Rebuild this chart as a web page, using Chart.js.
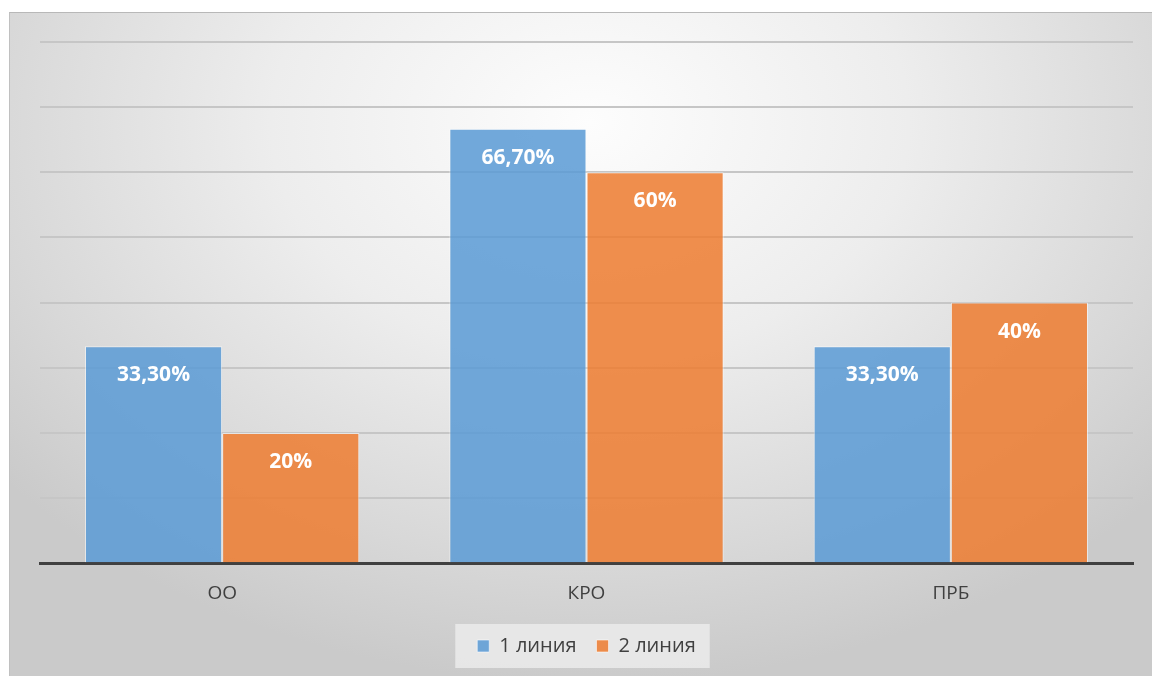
<!DOCTYPE html>
<html>
<head>
<meta charset="utf-8">
<script src="https://cdn.jsdelivr.net/npm/chart.js@4.4.0/dist/chart.umd.min.js"></script>
<style>
  html, body { margin: 0; padding: 0; background: #fff; }
  #frame {
    position: absolute; left: 9px; top: 12px; width: 1143px; height: 664px;
    border-top: 1px solid #b8b8b8; border-left: 1px solid #c0c0c0;
    box-sizing: border-box;
    background: radial-gradient(ellipse 760px 560px at 580px 110px, #fdfdfd 0%, #ededed 42%, #d8d8d8 78%, #cacaca 100%);
  }
  #chart { display: block; }
</style>
</head>
<body>
<div id="frame"><canvas id="chart" width="1142" height="663"></canvas></div>
<script>
// Categories and series
const categories = ['ОО', 'КРО', 'ПРБ'];
const line1 = [33.3, 66.7, 33.3];
const line2 = [20, 60, 40];
const line1Labels = ['33,30%', '66,70%', '33,30%'];
const line2Labels = ['20%', '60%', '40%'];

const textColor = '#404040';
const fontFamily = '"Open Sans", sans-serif';

// Light box behind the legend items
const legendBox = {
    id: 'legendBox',
    beforeDraw(chart) {
        const boxes = chart.legend && chart.legend.legendHitBoxes;
        if (!boxes || !boxes.length) return;
        const first = boxes[0];
        const last = boxes[boxes.length - 1];
        const ctx = chart.ctx;
        ctx.save();
        ctx.fillStyle = 'rgba(235,235,235,0.85)';
        ctx.fillRect(first.left - 22, first.top - 12, (last.left + last.width) - first.left + 36, first.height + 24);
        ctx.restore();
    }
};

// White value labels near the top of each bar
const valueLabels = {
    id: 'valueLabels',
    afterDatasetsDraw(chart) {
        const ctx = chart.ctx;
        const texts = [line1Labels, line2Labels];
        ctx.save();
        ctx.fillStyle = '#ffffff';
        ctx.font = 'bold 21px ' + fontFamily;
        ctx.textAlign = 'center';
        ctx.textBaseline = 'middle';
        chart.data.datasets.forEach((ds, i) => {
            chart.getDatasetMeta(i).data.forEach((bar, j) => {
                ctx.fillText(texts[i][j], bar.x, bar.y + 29);
            });
        });
        ctx.restore();
    }
};

new Chart(document.getElementById('chart'), {
    type: 'bar',
    data: {
        labels: categories,
        datasets: [
            {
                label: '1 линия',
                data: line1,
                backgroundColor: 'rgba(91,155,213,0.86)',
                borderColor: 'rgba(255,255,255,0.55)',
                borderWidth: 1
            },
            {
                label: '2 линия',
                data: line2,
                backgroundColor: 'rgba(237,125,49,0.86)',
                borderColor: 'rgba(255,255,255,0.55)',
                borderWidth: 1
            }
        ]
    },
    options: {
        responsive: false,
        animation: false,
        layout: { padding: { left: 30, right: 19, top: 29, bottom: 10 } },
        datasets: {
            bar: { barPercentage: 1, categoryPercentage: 0.753 }
        },
        scales: {
            x: {
                grid: { display: false },
                border: { color: '#404040', width: 3 },
                ticks: { color: textColor, font: { family: fontFamily, size: 19 }, padding: 11 }
            },
            y: {
                min: 0,
                max: 80,
                ticks: { display: false, stepSize: 10 },
                border: { display: false },
                grid: { color: '#c6c6c6', lineWidth: 2, drawTicks: false }
            }
        },
        plugins: {
            legend: {
                position: 'bottom',
                labels: {
                    color: textColor,
                    font: { family: fontFamily, size: 20 },
                    boxWidth: 12,
                    boxHeight: 12,
                    padding: 20
                }
            },
            tooltip: { enabled: false }
        }
    },
    plugins: [legendBox, valueLabels]
});
</script>
</body>
</html>
